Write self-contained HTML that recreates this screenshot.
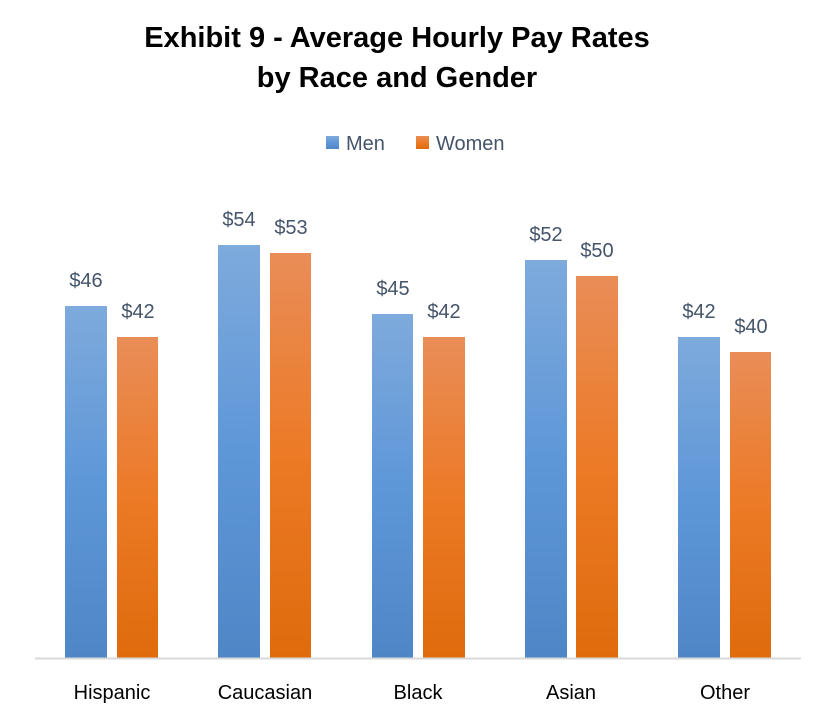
<!DOCTYPE html>
<html><head><style>
body{margin:0;background:#fff;}
svg text{font-family:"Liberation Sans",sans-serif;}
</style></head><body>
<svg width="817" height="713" xmlns="http://www.w3.org/2000/svg">
<defs>
<linearGradient id="b" x1="0" y1="0" x2="0" y2="1">
<stop offset="0" stop-color="#7eaadc"/><stop offset="0.5" stop-color="#5e97d8"/><stop offset="1" stop-color="#4f86c6"/></linearGradient>
<linearGradient id="o" x1="0" y1="0" x2="0" y2="1">
<stop offset="0" stop-color="#e98d58"/><stop offset="0.5" stop-color="#ec7a26"/><stop offset="1" stop-color="#df6b0c"/></linearGradient>
</defs>
<rect width="817" height="713" fill="#fff"/>
<text x="397" y="47" text-anchor="middle" font-size="29" font-weight="bold" fill="#000">Exhibit 9 - Average Hourly Pay Rates</text>
<text x="397" y="87" text-anchor="middle" font-size="29" font-weight="bold" fill="#000">by Race and Gender</text>
<rect x="326" y="136" width="13" height="13" fill="url(#b)"/>
<text x="346" y="150" font-size="20" fill="#44546a">Men</text>
<rect x="416" y="136" width="13" height="13" fill="url(#o)"/>
<text x="436" y="150" font-size="20" fill="#44546a">Women</text>
<g font-size="20" fill="#44546a" text-anchor="middle">
<rect x="65" y="306" width="42" height="352" fill="url(#b)"/><text x="86" y="287">$46</text>
<rect x="117" y="337" width="41" height="321" fill="url(#o)"/><text x="138" y="318">$42</text>
<rect x="218" y="245" width="42" height="413" fill="url(#b)"/><text x="239" y="226">$54</text>
<rect x="270" y="253" width="41" height="405" fill="url(#o)"/><text x="291" y="234">$53</text>
<rect x="372" y="314" width="41" height="344" fill="url(#b)"/><text x="393" y="295">$45</text>
<rect x="423" y="337" width="42" height="321" fill="url(#o)"/><text x="444" y="318">$42</text>
<rect x="525" y="260" width="42" height="398" fill="url(#b)"/><text x="546" y="241">$52</text>
<rect x="576" y="276" width="42" height="382" fill="url(#o)"/><text x="597" y="257">$50</text>
<rect x="678" y="337" width="42" height="321" fill="url(#b)"/><text x="699" y="318">$42</text>
<rect x="730" y="352" width="41" height="306" fill="url(#o)"/><text x="751" y="333">$40</text>
</g>
<line x1="35" y1="658.5" x2="801" y2="658.5" stroke="#d9d9d9" stroke-width="2"/>
<g font-size="20" fill="#000" text-anchor="middle">
<text x="112" y="699">Hispanic</text>
<text x="265" y="699">Caucasian</text>
<text x="418" y="699">Black</text>
<text x="571" y="699">Asian</text>
<text x="725" y="699">Other</text>
</g>
</svg>
</body></html>
